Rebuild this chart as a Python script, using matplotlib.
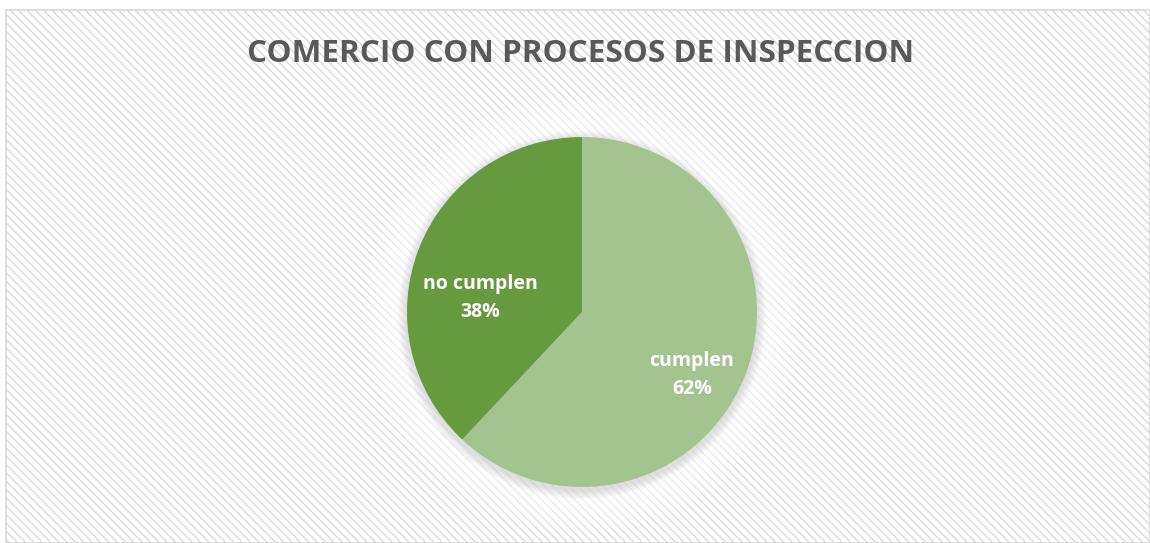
import matplotlib
matplotlib.use("Agg")
import matplotlib.pyplot as plt
from matplotlib.patches import Rectangle, Circle

title = "COMERCIO CON PROCESOS DE INSPECCION"
categories = ["cumplen", "no cumplen"]
values = [62, 38]
colors = ["#A3C48F", "#669A3F"]

W, H = 1150, 543
fig = plt.figure(figsize=(W / 100, H / 100), dpi=100)
fig.patch.set_facecolor("white")
ax = fig.add_axes([0, 0, 1, 1])

plt.rcParams["hatch.linewidth"] = 1.0
plt.rcParams["hatch.color"] = "#ededed"
# chart area background with diagonal hatch
bg = Rectangle((6, 0), 1144, 533, facecolor="white", edgecolor="#d9d9d9",
               linewidth=1.2, hatch="\\" * 4, zorder=0)
ax.add_patch(bg)

cx, cy, r = 582, H - 312, 175
# soft glow around the pie
for i in range(25):
    ax.add_patch(Circle((cx, cy - 2), r + 45 - i * 1.6, facecolor="white",
                        edgecolor="none", alpha=0.07, zorder=1))
for i in range(10):
    ax.add_patch(Circle((cx, cy - 3), r + 9 - i * 0.9, facecolor="#bcbcbc",
                        edgecolor="none", alpha=0.05, zorder=1.5))

wedges, _ = ax.pie(values, colors=colors, startangle=90, counterclock=False,
                   radius=r, center=(cx, cy),
                   wedgeprops=dict(linewidth=0, zorder=2), frame=True)
ax.set_xlim(0, W)
ax.set_ylim(0, H)
ax.set_aspect("equal")
ax.axis("off")

label_pos = {"no cumplen": (480, H - 298), "cumplen": (692, H - 375)}
for cat, v in zip(categories, values):
    x, y = label_pos[cat]
    ax.text(x, y, f"{cat}\n{v}%", ha="center", va="center", color="white",
            fontsize=14, fontweight="bold", family="Open Sans",
            linespacing=1.5, zorder=3)

ax.text(581, H - 54, title, ha="center", va="center", color="#595959",
        fontsize=22.6, fontweight="bold", family="Open Sans", zorder=3)

fig.savefig("out.png", dpi=100, facecolor="white")
